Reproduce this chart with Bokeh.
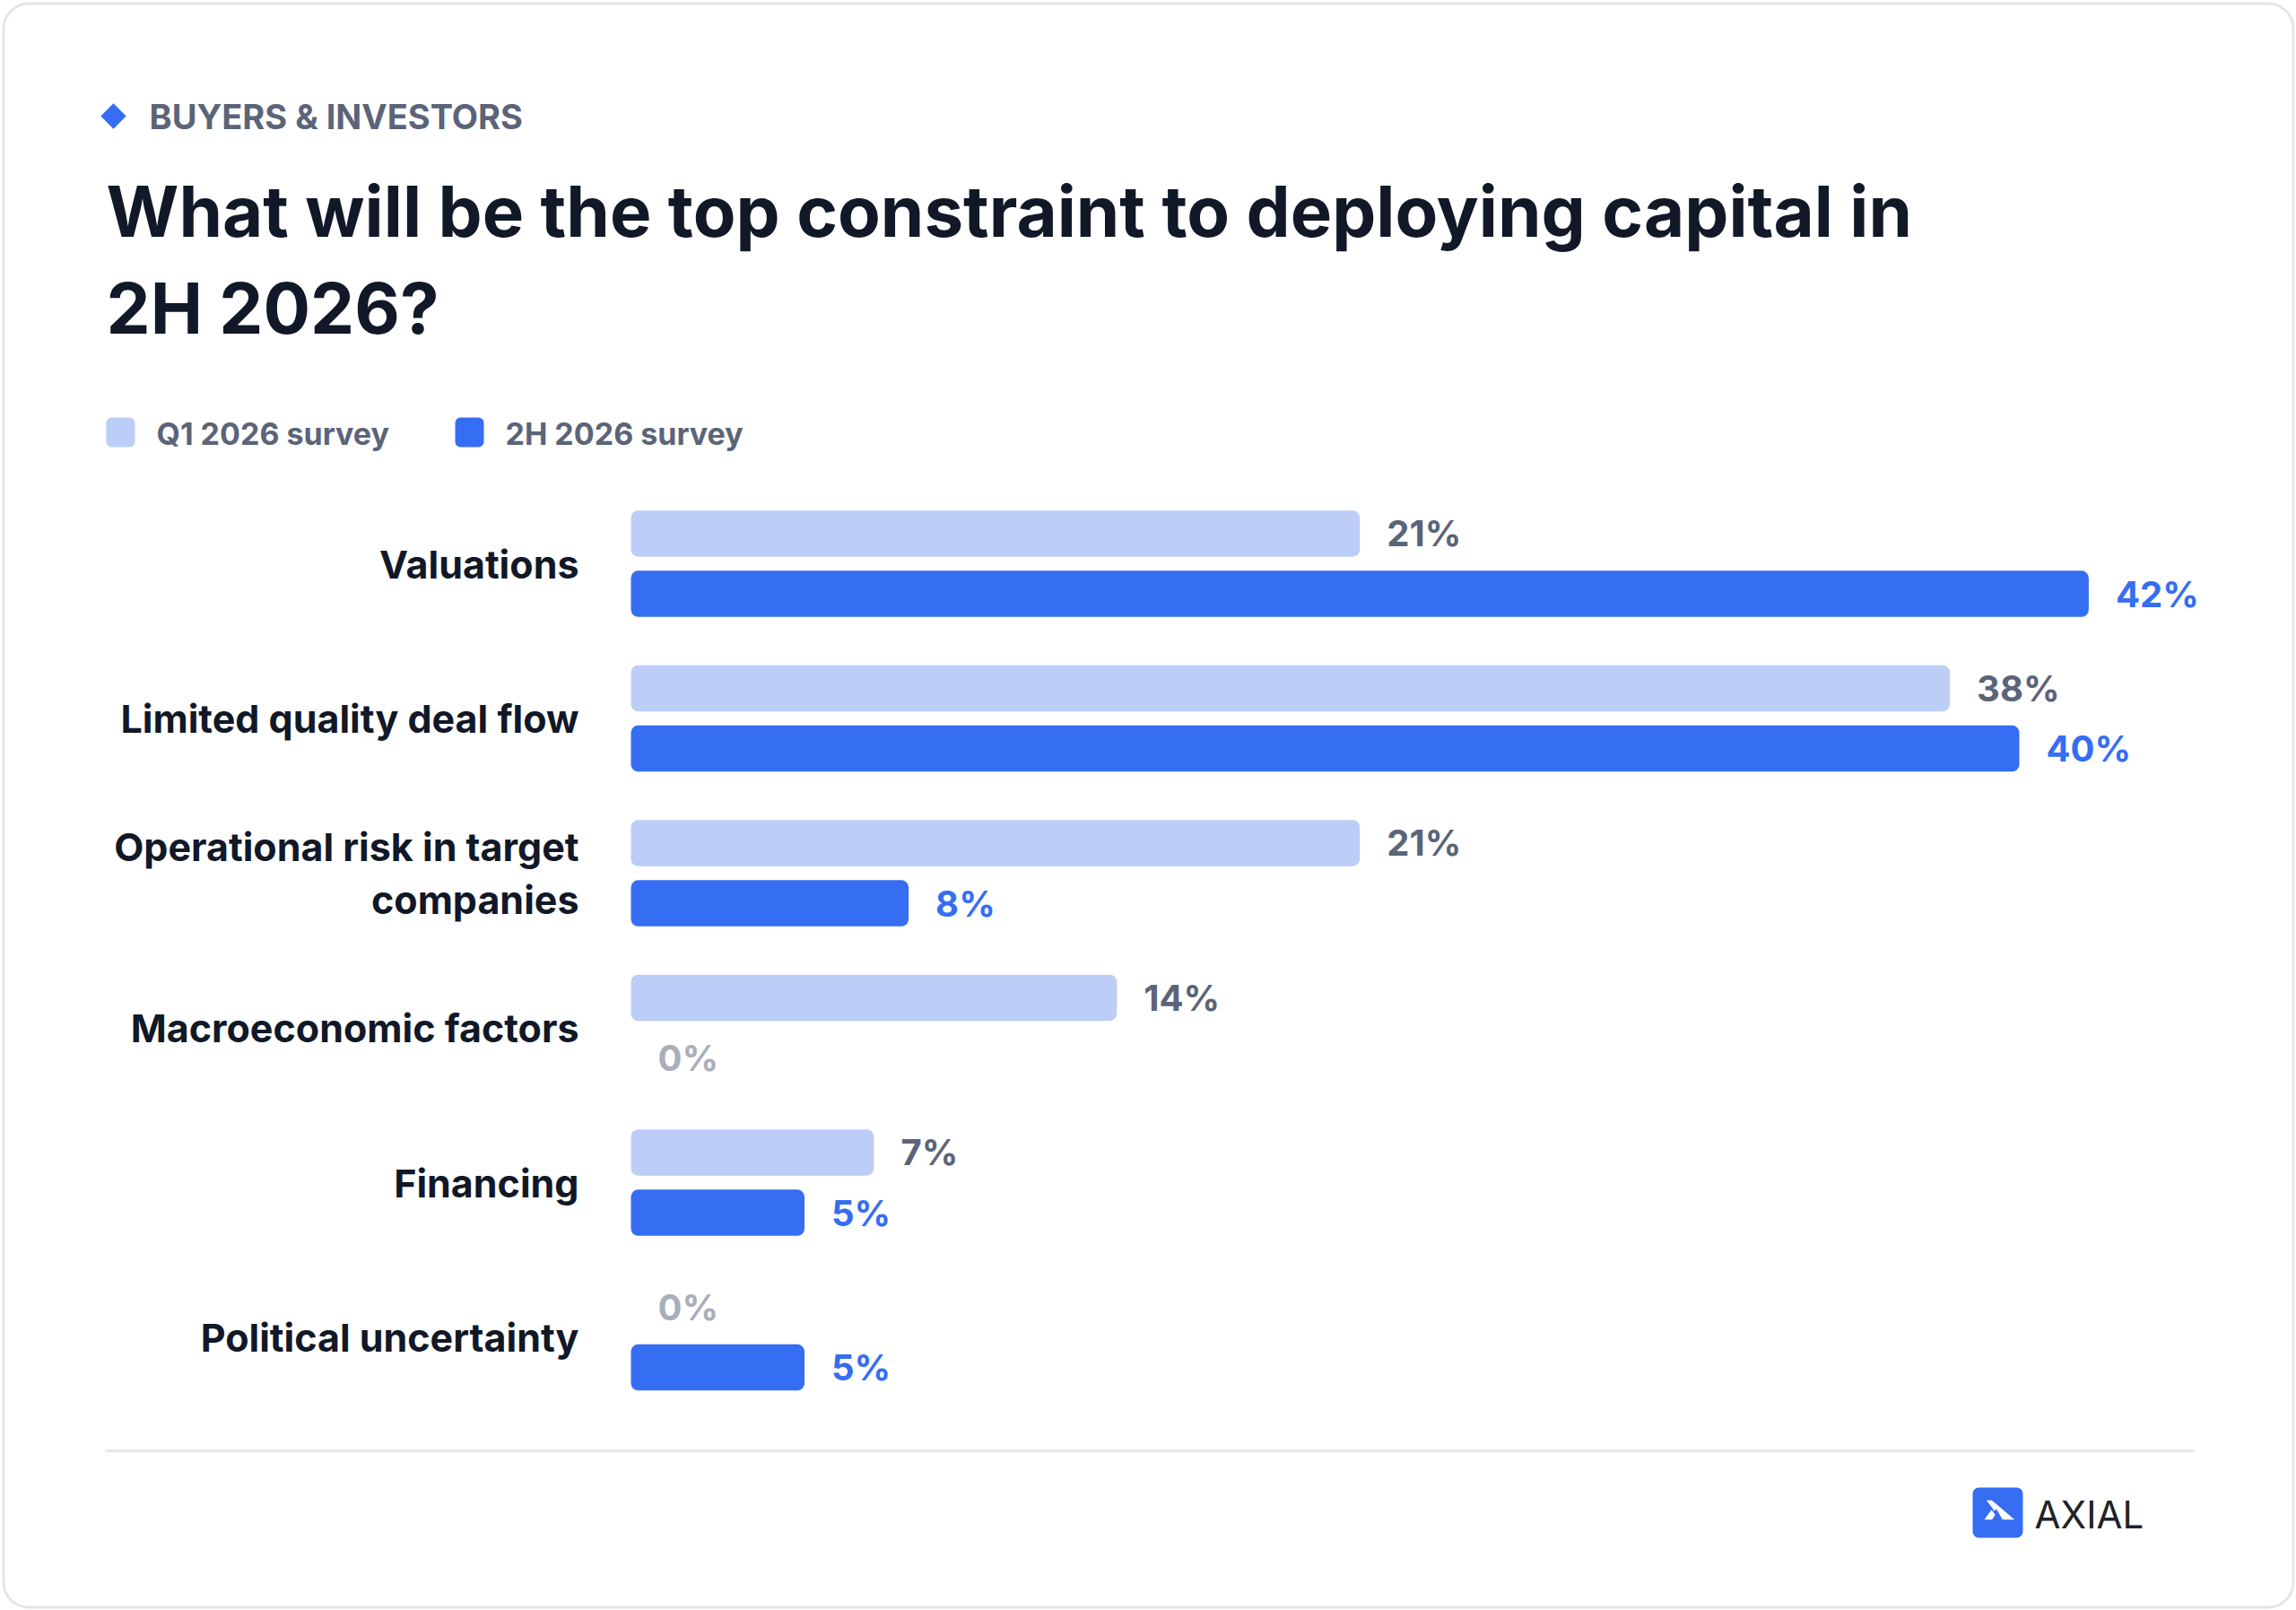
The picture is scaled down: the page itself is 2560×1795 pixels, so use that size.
import numpy as np
from bokeh.plotting import figure
from bokeh.models import Range1d, ColumnDataSource
from bokeh.transform import dodge
from bokeh.core.properties import value
from bokeh.embed import file_html
from bokeh.resources import INLINE

# ---------------- data ----------------
categories = [
    "Valuations",
    "Limited quality deal flow",
    "Operational risk in target\ncompanies",
    "Macroeconomic factors",
    "Financing",
    "Political uncertainty",
]
series_names = ["Q1 2026 survey", "2H 2026 survey"]
q1_2026 = [21, 38, 21, 14, 7, 0]
h2_2026 = [42, 40, 8, 0, 5, 5]
kicker = "BUYERS & INVESTORS"
title_lines = ["What will be the top constraint to deploying capital in", "2H 2026?"]
brand = "AXIAL"

# ---------------- style ----------------
LIGHT = "#bccdf8"
BLUE = "#356df3"
SLATE = "#5b6478"
ZERO = "#a9aeb9"
INK = "#111827"
RULE = "#e5e7eb"
FONT = value("Inter")

W, H = 2560, 1795
X0, X1 = 0, W              # page pixel frame covered by the figure
Y0, Y1 = 0, H

BAR_X0 = 703.0             # page x of 0 %
PX_PER_PCT = 38.7
GROUP_Y0 = 628.0           # page y of first category centre
GROUP_PITCH = 172.5

p = figure(width=W, height=H, output_backend="svg", toolbar_location=None,
           x_range=Range1d(X0, X1), y_range=Range1d(Y1, Y0),
           x_axis_type=None, y_axis_type=None, min_border=0,
           outline_line_color=None, background_fill_color="white",
           border_fill_color="white")
p.xgrid.visible = False
p.ygrid.visible = False
p.extra_x_ranges = {"pct": Range1d((X0 - BAR_X0) / PX_PER_PCT, (X1 - BAR_X0) / PX_PER_PCT)}
p.extra_y_ranges = {"cat": Range1d((Y1 - GROUP_Y0) / GROUP_PITCH, (Y0 - GROUP_Y0) / GROUP_PITCH)}

# ---------------- card + header ----------------
p.quad(left=[3.5], right=[2556.5], top=[3.5], bottom=[1791.5], fill_color=None,
       line_color="#e3e5e9", line_width=3, border_radius=28)

p.scatter(x=[126], y=[129], marker="square", size=20, angle=np.pi / 4,
          fill_color=BLUE, line_color=None)
p.text(x=[166], y=[129.5], text=[kicker], text_font=FONT, text_font_style="bold",
       text_font_size="38px", text_color=SLATE, text_baseline="middle")

p.text(x=[118, 118], y=[235, 342.5], text=title_lines, text_font=FONT,
       text_font_style="bold", text_font_size="78px", text_color=INK,
       text_baseline="middle")

# legend
leg_x = [118, 507]
leg_cols = [LIGHT, BLUE]
p.quad(left=leg_x, right=[x + 32 for x in leg_x], top=[465] * 2, bottom=[498] * 2,
       fill_color=leg_cols, line_color=None, border_radius=6)
p.text(x=[x + 56 for x in leg_x], y=[482.5] * 2, text=series_names, text_font=FONT,
       text_font_style="bold", text_font_size="34px", text_color=SLATE,
       text_baseline="middle")

# ---------------- bars ----------------
idx = np.arange(len(categories))
src = ColumnDataSource(dict(
    cat=categories, idx=idx, q1=q1_2026, h2=h2_2026,
    q1_lbl=[f"{v}%" for v in q1_2026], h2_lbl=[f"{v}%" for v in h2_2026],
    q1_col=[ZERO if v == 0 else SLATE for v in q1_2026],
    h2_col=[ZERO if v == 0 else BLUE for v in h2_2026],
))
OFF = 33.6 / GROUP_PITCH
BH = 51.5 / GROUP_PITCH

p.hbar(y=dodge("idx", -OFF), left=0, right="q1", height=BH, fill_color=LIGHT,
       line_color=None, border_radius=8, source=src,
       x_range_name="pct", y_range_name="cat")
p.hbar(y=dodge("idx", OFF), left=0, right="h2", height=BH, fill_color=BLUE,
       line_color=None, border_radius=8, source=src,
       x_range_name="pct", y_range_name="cat")

p.text(x="q1", y=dodge("idx", -OFF), text="q1_lbl", x_offset=30,
       text_color="q1_col", text_font=FONT, text_font_style="bold",
       text_font_size="40px", text_baseline="middle", source=src,
       x_range_name="pct", y_range_name="cat")
p.text(x="h2", y=dodge("idx", OFF), text="h2_lbl", x_offset=30,
       text_color="h2_col", text_font=FONT, text_font_style="bold",
       text_font_size="40px", text_baseline="middle", source=src,
       x_range_name="pct", y_range_name="cat")

p.text(x=0, y="idx", text="cat", x_offset=-58, text_align="right",
       text_baseline="middle", text_line_height=1.12, text_color=INK,
       text_font=FONT, text_font_style="bold", text_font_size="43px",
       source=src, x_range_name="pct", y_range_name="cat")

# ---------------- footer ----------------
p.segment(x0=[117], y0=[1617], x1=[2446], y1=[1617], line_color=RULE, line_width=3)

p.quad(left=[2199], right=[2255], top=[1658], bottom=[1714], fill_color=BLUE,
       line_color=None, border_radius=7)
p.patches(xs=[[2214.3, 2220.7, 2226.7, 2223.3],
              [2212.0, 2220.7, 2224.0, 2220.0],
              [2221.7, 2245.7, 2232.3, 2226.0]],
          ys=[[1672.3, 1672.3, 1680.7, 1684.0],
              [1693.7, 1693.7, 1688.3, 1682.7],
              [1673.3, 1693.7, 1693.7, 1682.7]],
          fill_color="white", line_color=None)
p.text(x=[2268], y=[1687.5], text=[brand], text_font=FONT, text_font_size="42px",
       text_color="#1f2328", text_baseline="middle")

open("out.html", "w").write(file_html(p, INLINE))
